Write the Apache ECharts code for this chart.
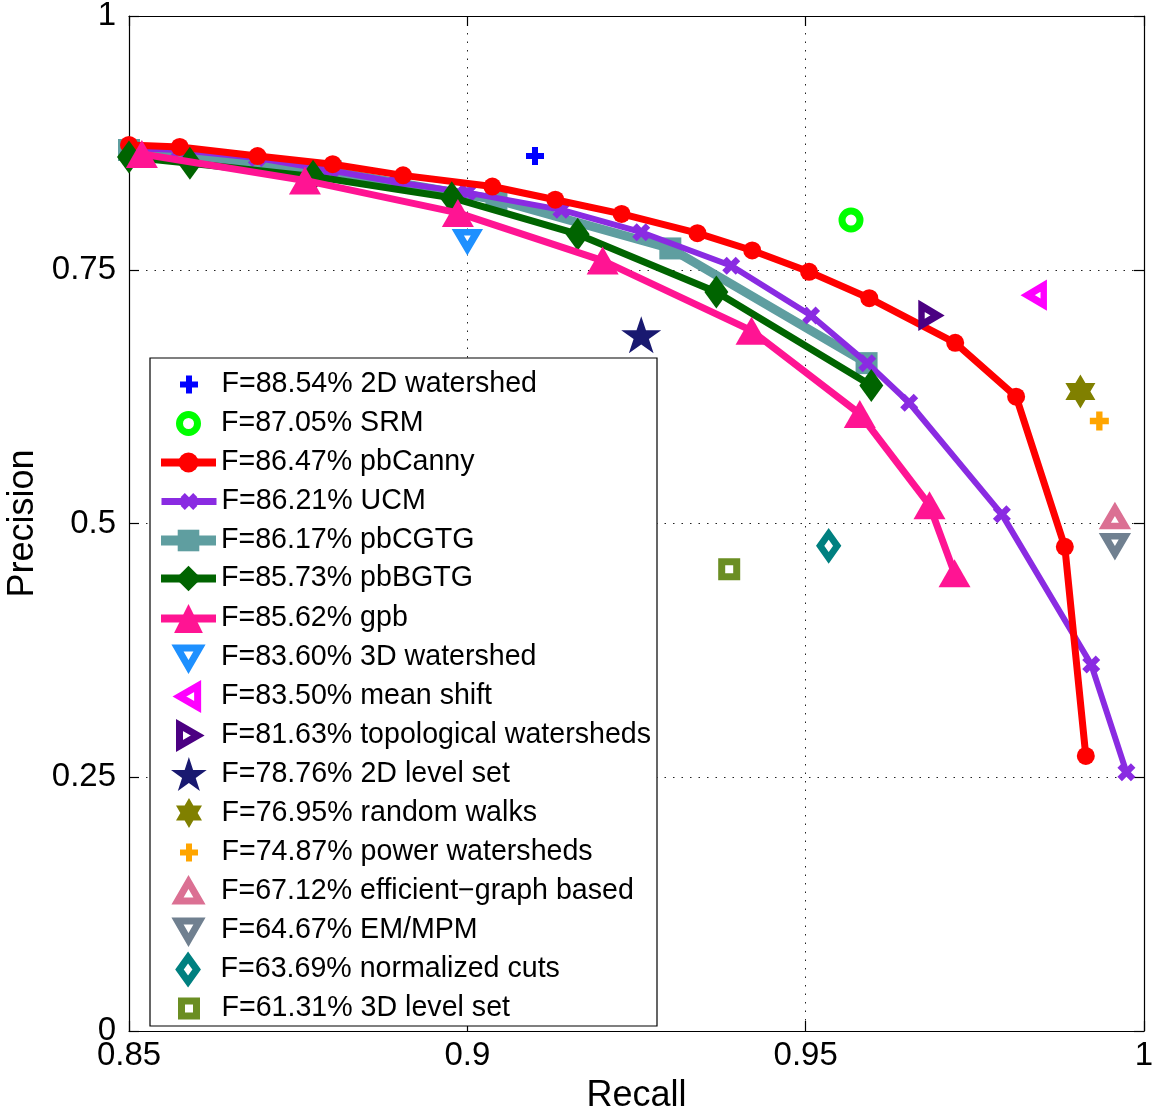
<!DOCTYPE html>
<html>
<head>
<meta charset="utf-8">
<script src="https://cdn.jsdelivr.net/npm/echarts@6/dist/echarts.min.js"></script>
<style>
html,body{margin:0;padding:0;background:#fff;}
#chart{width:1156px;height:1111px;}
</style>
</head>
<body>
<div id="chart"></div>
<script>
// ---- axes ----
const xTicks = [0.85, 0.9, 0.95, 1];
const yTicks = [0, 0.25, 0.5, 0.75, 1];

// ---- curve series (recall, precision) ----
const pbCannyRecall    = [0.85, 0.8575, 0.869, 0.8801, 0.8905, 0.9037, 0.913, 0.9228, 0.934, 0.9421, 0.9505, 0.9594, 0.9721, 0.9811, 0.9883, 0.9914];
const pbCannyPrecision = [0.873, 0.871, 0.862, 0.854, 0.843, 0.832, 0.819, 0.805, 0.786, 0.769, 0.748, 0.722, 0.678, 0.625, 0.477, 0.271];

const ucmRecall    = [0.85, 0.8575, 0.8689, 0.8797, 0.8897, 0.9, 0.9139, 0.9257, 0.939, 0.9508, 0.9591, 0.9653, 0.979, 0.9922, 0.9974];
const ucmPrecision = [0.870, 0.868, 0.860, 0.848, 0.836, 0.826, 0.809, 0.787, 0.754, 0.705, 0.658, 0.619, 0.509, 0.361, 0.255];

const pbCGTGRecall    = [0.85, 0.8798, 0.9043, 0.93, 0.959];
const pbCGTGPrecision = [0.868, 0.847, 0.819, 0.771, 0.658];

const pbBGTGRecall    = [0.85, 0.859, 0.8772, 0.8977, 0.9163, 0.9368, 0.9597];
const pbBGTGPrecision = [0.861, 0.855, 0.842, 0.821, 0.785, 0.728, 0.636];

const gpbRecall    = [0.8519, 0.876, 0.8986, 0.92, 0.942, 0.958, 0.9683, 0.972];
const gpbPrecision = [0.864, 0.838, 0.806, 0.759, 0.690, 0.608, 0.518, 0.451];

// ---- single-point methods ----
const pointNames = ['2D watershed', 'SRM', '3D watershed', 'mean shift', 'topological watersheds', '2D level set', 'random walks', 'power watersheds', 'efficient\u2212graph based', 'EM/MPM', 'normalized cuts', '3D level set'];
const pointF         = ['88.54', '87.05', '83.60', '83.50', '81.63', '78.76', '76.95', '74.87', '67.12', '64.67', '63.69', '61.31'];
const pointRecall    = [0.910, 0.9567, 0.900, 0.984, 0.9683, 0.9257, 0.9906, 0.9934, 0.9957, 0.9957, 0.9534, 0.9387];
const pointPrecision = [0.862, 0.799, 0.779, 0.725, 0.705, 0.686, 0.630, 0.601, 0.506, 0.479, 0.478, 0.455];

const curveNames = ['pbCanny', 'UCM', 'pbCGTG', 'pbBGTG', 'gpb'];
const curveF = ['86.47', '86.21', '86.17', '85.73', '85.62'];

// legend order
const legendOrder = ['2D watershed', 'SRM', 'pbCanny', 'UCM', 'pbCGTG', 'pbBGTG', 'gpb', '3D watershed', 'mean shift', 'topological watersheds', '2D level set', 'random walks', 'power watersheds', 'efficient\u2212graph based', 'EM/MPM', 'normalized cuts', '3D level set'];

// ---- styles ----
const FONT = "'Liberation Sans', Arial, Helvetica, sans-serif";
const P_PLUS = 'path://M4,0H8V4H12V8H8V12H4V8H0V4H4Z';
const P_X = 'path://M0,3L3,0L6,3L9,0L12,3L9,6L12,9L9,12L6,9L3,12L0,9L3,6Z';
const P_STAR = 'path://M50,0L61.23,34.55L97.55,34.55L68.16,55.9L79.39,90.45L50,69.1L20.61,90.45L31.84,55.9L2.45,34.55L38.77,34.55Z';
const P_HEX = 'path://M50,0L64.43,25L93.3,25L78.87,50L93.3,75L64.43,75L50,100L35.57,75L6.7,75L21.13,50L6.7,25L35.57,25Z';
const P_DOWN = 'path://M0,0L11,0L5.5,9.5Z';
const P_UP = 'path://M5.5,0L11,9.5L0,9.5Z';
const P_LEFT = 'path://M9.5,0L9.5,11L0,5.5Z';
const P_RIGHT = 'path://M0,0L9.5,5.5L0,11Z';
const P_DIAM = 'path://M5,0L10,7L5,14L0,7Z';
const P_SQ = 'path://M0,0H10V10H0Z';

// lh = legend icon height, asp = icon width/height, dy = legend row nudge
const curveStyles = {
  'pbCanny': {color: '#FF0000', width: 7, symbol: 'circle', size: 18, z: 4, lh: 25, lw: 8, dy: 2},
  'UCM':     {color: '#8A2BE2', width: 6, symbol: P_X, size: 18, z: 3, lh: 21, lw: 7, dy: 2},
  'pbCGTG':  {color: '#5F9EA0', width: 9, symbol: 'rect', size: 22, z: 2, lh: 27, lw: 10, dy: 2},
  'pbBGTG':  {color: '#006400', width: 7, symbol: 'diamond', size: [24, 33], z: 5, lh: 32, lw: 8, dy: 3},
  'gpb':     {color: '#FF1493', width: 7, symbol: 'triangle', size: [32, 28], z: 6, lh: 36, lw: 8, dy: 6}
};
const pointStyles = {
  '2D watershed':          {color: '#0000FF', symbol: P_PLUS, size: 18, hollow: false, lh: 18, asp: 1},
  'SRM':                   {color: '#00FF00', symbol: 'circle', size: 18, hollow: true, bw: 7, lh: 18, asp: 1},
  '3D watershed':          {color: '#1E90FF', symbol: P_DOWN, size: [19, 16], hollow: true, bw: 7, lh: 19, asp: 11 / 9.5},
  'mean shift':            {color: '#FF00FF', symbol: P_LEFT, size: [16, 19], hollow: true, bw: 7, lh: 21, asp: 9.5 / 11},
  'topological watersheds':{color: '#4B0082', symbol: P_RIGHT, size: [16, 19], hollow: true, bw: 7, lh: 21, asp: 9.5 / 11},
  '2D level set':          {color: '#191970', symbol: P_STAR, size: [40, 37], hollow: false, lh: 34, asp: 95.1 / 90.45},
  'random walks':          {color: '#808000', symbol: P_HEX, size: [30, 34], hollow: false, lh: 30, asp: 0.866},
  'power watersheds':      {color: '#FFA500', symbol: P_PLUS, size: 19, hollow: false, lh: 18, asp: 1},
  'efficient\u2212graph based': {color: '#DB7093', symbol: P_UP, size: [20, 17], hollow: true, bw: 7, lh: 19, asp: 11 / 9.5},
  'EM/MPM':                {color: '#708090', symbol: P_DOWN, size: [20, 17], hollow: true, bw: 7, lh: 19, asp: 11 / 9.5},
  'normalized cuts':       {color: '#008080', symbol: P_DIAM, size: [17, 24], hollow: true, bw: 7, lh: 24, asp: 10 / 14},
  '3D level set':          {color: '#6B8E23', symbol: P_SQ, size: 15, hollow: true, bw: 7, lh: 15, asp: 1}
};

const curveData = {
  'pbCanny': [pbCannyRecall, pbCannyPrecision],
  'UCM': [ucmRecall, ucmPrecision],
  'pbCGTG': [pbCGTGRecall, pbCGTGPrecision],
  'pbBGTG': [pbBGTGRecall, pbBGTGPrecision],
  'gpb': [gpbRecall, gpbPrecision]
};

function label(name) {
  let i = curveNames.indexOf(name);
  if (i >= 0) return 'F=' + curveF[i] + '% ' + name;
  i = pointNames.indexOf(name);
  return 'F=' + pointF[i] + '% ' + name;
}

// legend layout
const LEG_BOX = {x: 150, y: 358, w: 507, h: 668};
const LEG_FIRST = 382, LEG_STEP = 39, LEG_FONT = 28.6, ICON_X = 161, ICON_W = 55;

const series = [];
const legends = [];
legendOrder.forEach(function (name, idx) {
  const lbl = label(name);
  const center = LEG_FIRST + LEG_STEP * idx;
  let item, ext, lh, left, dy;
  if (curveStyles[name]) {
    const s = curveStyles[name];
    const d = curveData[name];
    series.push({
      type: 'line', name: lbl, z: s.z, clip: false,
      data: d[0].map(function (r, k) { return [r, d[1][k]]; }),
      symbol: s.symbol, symbolSize: s.size, showAllSymbol: true,
      lineStyle: {color: s.color, width: s.width, join: 'round'},
      itemStyle: {color: s.color, opacity: 1},
      emphasis: {disabled: true}
    });
    item = {name: lbl, lineStyle: {width: s.lw, color: s.color}, itemStyle: {color: s.color, borderWidth: 0}};
    lh = s.lh;
    ext = Math.max(0.8 * lh, s.lw);
    left = ICON_X - s.lw / 2;
    dy = s.dy;
  } else {
    const s = pointStyles[name];
    const i = pointNames.indexOf(name);
    const itemStyle = s.hollow
      ? {color: '#FFFFFF', borderColor: s.color, borderWidth: s.bw, opacity: 1}
      : {color: s.color, borderWidth: 0, opacity: 1};
    series.push({
      type: 'scatter', name: lbl, z: 7, clip: false,
      data: [[pointRecall[i], pointPrecision[i]]],
      symbol: s.symbol, symbolSize: s.size,
      itemStyle: itemStyle,
      emphasis: {disabled: true}
    });
    item = {name: lbl, itemStyle: Object.assign({}, itemStyle)};
    lh = s.lh;
    const bw = s.hollow ? s.bw : 0;
    ext = lh + bw;
    left = ICON_X + (ICON_W - lh * s.asp) / 2 - bw / 2;
    dy = 2;
  }
  const rowH = Math.max(ext, lh, LEG_FONT);
  legends.push({
    orient: 'vertical', left: Math.round(left), top: Math.round(center - rowH / 2 + dy),
    padding: 0, itemWidth: ICON_W, itemHeight: lh, itemGap: 0,
    selectedMode: false,
    textStyle: {fontSize: LEG_FONT, color: '#000', fontFamily: FONT},
    data: [item], z: 21
  });
});

const chart = echarts.init(document.getElementById('chart'), null, {renderer: 'canvas'});
const axisCommon = {
  type: 'value',
  axisLine: {show: true, onZero: false, lineStyle: {color: '#000', width: 1.2}},
  axisTick: {show: true, inside: true, length: 10, lineStyle: {color: '#000', width: 1.2}},
  splitLine: {show: false},
  minorTick: {show: false}
};
chart.setOption({
  animation: false,
  backgroundColor: '#fff',
  textStyle: {fontFamily: FONT},
  grid: {left: 129, right: 12, top: 16, bottom: 80, containLabel: false, outerBoundsMode: 'none'},
  xAxis: [
    Object.assign({}, axisCommon, {
      position: 'bottom', min: xTicks[0], max: xTicks[xTicks.length - 1], interval: 0.05,
      name: 'Recall', nameLocation: 'middle', nameGap: 47,
      nameTextStyle: {fontSize: 36, color: '#000', fontFamily: FONT},
      axisLabel: {fontSize: 33, color: '#000', margin: 8, fontFamily: FONT,
        formatter: function (v) { const t = xTicks.find(function (x) { return Math.abs(x - v) < 1e-9; }); return t === undefined ? '' : String(t); }},
      splitLine: {show: true, lineStyle: {color: '#222', width: 1, type: [1.5, 7]}}
    }),
    Object.assign({}, axisCommon, {
      position: 'top', min: xTicks[0], max: xTicks[xTicks.length - 1], interval: 0.05,
      axisLabel: {show: false}
    })
  ],
  yAxis: [
    Object.assign({}, axisCommon, {
      position: 'left', min: yTicks[0], max: yTicks[yTicks.length - 1], interval: 0.25,
      name: 'Precision', nameLocation: 'middle', nameGap: 85, nameRotate: 90,
      nameTextStyle: {fontSize: 36, color: '#000', fontFamily: FONT},
      axisLabel: {fontSize: 33, color: '#000', margin: 13, fontFamily: FONT,
        formatter: function (v) { const t = yTicks.find(function (y) { return Math.abs(y - v) < 1e-9; }); return t === undefined ? '' : String(t); }},
      splitLine: {show: true, lineStyle: {color: '#222', width: 1, type: [1.5, 7]}}
    }),
    Object.assign({}, axisCommon, {
      position: 'right', min: yTicks[0], max: yTicks[yTicks.length - 1], interval: 0.25,
      axisLabel: {show: false}
    })
  ],
  graphic: [{
    type: 'rect', z: 15, silent: true,
    shape: {x: LEG_BOX.x, y: LEG_BOX.y, width: LEG_BOX.w, height: LEG_BOX.h},
    style: {fill: '#fff', stroke: '#000', lineWidth: 1.2}
  }],
  legend: legends,
  series: series
});
</script>
</body>
</html>
